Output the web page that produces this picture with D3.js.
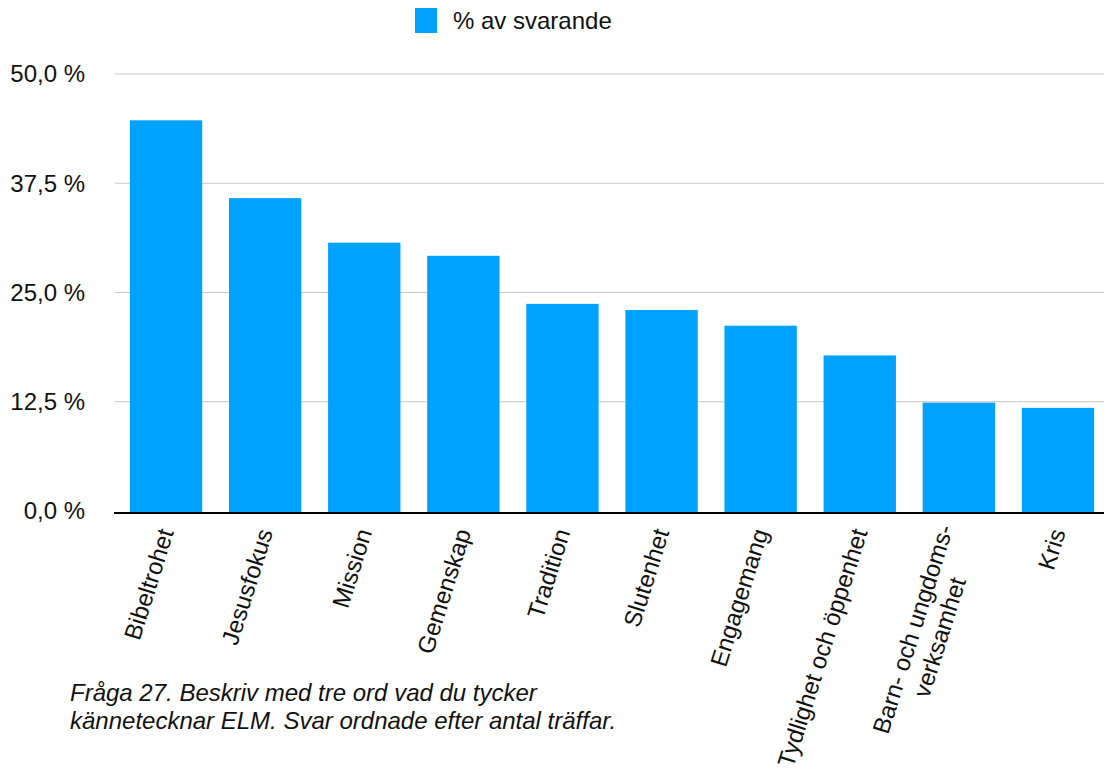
<!DOCTYPE html>
<html>
<head>
<meta charset="utf-8">
<script src="https://cdn.jsdelivr.net/npm/d3@7"></script>
<style>
  html, body { margin: 0; padding: 0; background: #fff; }
  svg { display: block; }
  text { font-family: "Liberation Sans", Arial, Helvetica, sans-serif; fill: #111; }
</style>
</head>
<body>
<svg id="chart" width="1104" height="769"></svg>
<script>
const categories = [
  "Bibeltrohet", "Jesusfokus", "Mission", "Gemenskap", "Tradition",
  "Slutenhet", "Engagemang", "Tydlighet och öppenhet",
  "Barn- och ungdoms-\nverksamhet", "Kris"
];
const values = [44.7, 35.8, 30.7, 29.2, 23.7, 23.0, 21.2, 17.8, 12.4, 11.8];
const yTicks = [0, 12.5, 25, 37.5, 50];
const seriesName = "% av svarande";
const caption = [
  "Fråga 27. Beskriv med tre ord vad du tycker",
  "kännetecknar ELM. Svar ordnade efter antal träffar."
];

const svg = d3.select("#chart");
const W = 1104, H = 769;
const margin = { left: 116.5, right: -3.5, top: 74, bottom: 258 };
const barColor = "#00A2FF";
const fontSize = 24;

const x = d3.scaleBand()
  .domain(categories)
  .range([margin.left, W - margin.right])
  .paddingInner(0.27)
  .paddingOuter(0.135);

const y = d3.scaleLinear()
  .domain([0, 50])
  .range([511, margin.top]);

const fmt = v => d3.format(".1f")(v).replace(".", ",") + " %";

// gridlines
svg.append("g")
  .selectAll("line")
  .data(yTicks.filter(t => t > 0))
  .join("line")
  .attr("x1", 115).attr("x2", W)
  .attr("y1", d => y(d)).attr("y2", d => y(d))
  .attr("stroke", "#c6c6c6")
  .attr("stroke-width", 1.2);

// y tick labels
svg.append("g")
  .selectAll("text")
  .data(yTicks)
  .join("text")
  .attr("x", 85)
  .attr("y", d => y(d))
  .attr("dy", "0.35em")
  .attr("text-anchor", "end")
  .style("font-size", fontSize + "px")
  .text(fmt);

// bars
svg.append("g")
  .selectAll("rect")
  .data(values)
  .join("rect")
  .attr("x", (d, i) => x(categories[i]))
  .attr("width", x.bandwidth())
  .attr("y", d => y(d))
  .attr("height", d => y(0) - y(d) + 1.5)
  .attr("fill", barColor);

// x axis baseline
svg.append("line")
  .attr("x1", 114).attr("x2", W)
  .attr("y1", y(0) + 2).attr("y2", y(0) + 2)
  .attr("stroke", "#000")
  .attr("stroke-width", 2.2);

// x labels (rotated)
const xl = svg.append("g");
categories.forEach((c, i) => {
  const lines = c.split("\n");
  const cx = x(c) + x.bandwidth() / 2;
  const t = xl.append("text")
    .attr("transform", `translate(${cx + 8},${y(0) + 21}) rotate(-72.5)`)
    .attr("text-anchor", "end")
    .style("font-size", fontSize + "px");
  if (lines.length === 1) {
    t.append("tspan").attr("x", 0).attr("y", 0).text(lines[0]);
  } else {
    const spans = lines.map((ln, k) =>
      t.append("tspan").attr("x", 0).attr("y", (k - (lines.length - 1) / 2) * 28).text(ln));
    const widths = spans.map(s => s.node().getComputedTextLength());
    const maxW = d3.max(widths);
    spans.forEach((s, k) => s.attr("x", -(maxW - widths[k]) / 2));
  }
});

// legend
const lg = svg.append("g");
lg.append("rect")
  .attr("x", 415).attr("y", 8).attr("width", 22).attr("height", 25)
  .attr("fill", barColor);
lg.append("text")
  .attr("x", 453).attr("y", 29)
  .style("font-size", fontSize + "px")
  .text(seriesName);

// caption
svg.append("g")
  .selectAll("text")
  .data(caption)
  .join("text")
  .attr("x", 70)
  .attr("y", (d, i) => 701 + i * 28)
  .style("font-size", "24px")
  .style("font-style", "italic")
  .text(d => d);
</script>
</body>
</html>
